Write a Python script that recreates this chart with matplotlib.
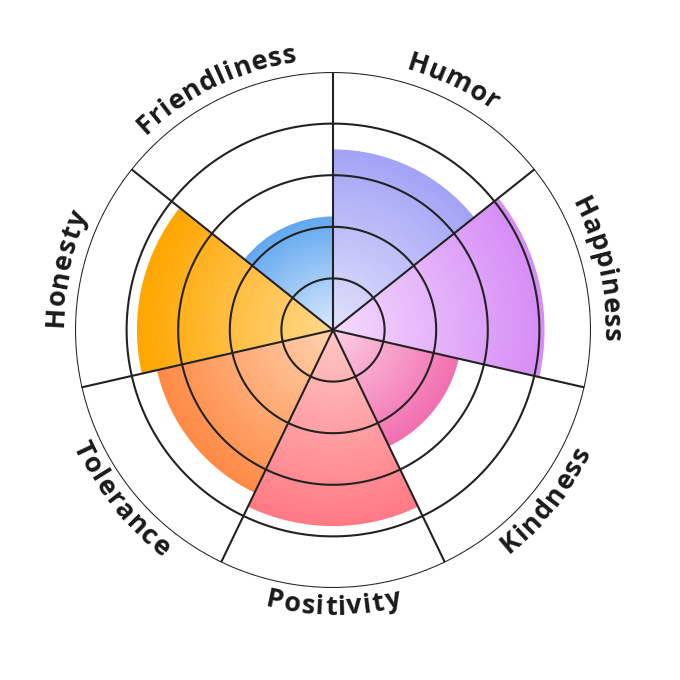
import numpy as np
import matplotlib
matplotlib.use('Agg')
import matplotlib.pyplot as plt
from matplotlib.colors import to_rgb
from matplotlib.font_manager import FontProperties

# sectors go clockwise starting at 12 o'clock
labels = ['Humor', 'Happiness', 'Kindness', 'Positivity', 'Tolerance', 'Honesty', 'Friendliness']
values = [3.5, 4.1, 2.5, 3.8, 3.5, 3.8, 2.2]
outer_colors = ['#a3a3f6', '#d68cf6', '#f26fb0', '#ff7a84', '#ff8a45', '#ffa600', '#62a8f0']
inner_colors = ['#e2e2fc', '#f3dcfd', '#fcd0e4', '#ffc9c6', '#ffd3b0', '#ffd98c', '#dbeafc']
rings = [1, 2, 3, 4, 5]


def mix(c1, c2, t):
    a = np.array(to_rgb(c1))
    b = np.array(to_rgb(c2))
    return tuple(a + (b - a) * t)


fig = plt.figure(figsize=(6.8, 6.8), dpi=100)
R = 258  # outer ring radius in px
cx, cy = 333, 680 - 330
ax = fig.add_axes([(cx - R) / 680, (cy - R) / 680, 2 * R / 680, 2 * R / 680], projection='polar')
ax.set_theta_zero_location('N')
ax.set_theta_direction(-1)
ax.set_ylim(0, rings[-1])
ax.set_xticks([])
ax.set_yticks([])
ax.grid(False)
ax.spines['polar'].set_visible(False)
ax.patch.set_alpha(0)

n = len(labels)
width = 2 * np.pi / n
centers = np.arange(n) * width + width / 2

# radial gradient: stack shrinking bars, outermost first
steps = 80
for k in range(steps, 0, -1):
    t = k / steps
    cols = [mix(inner_colors[i], outer_colors[i], t) for i in range(n)]
    ax.bar(centers, np.array(values) * t, width=width, color=cols, linewidth=0, antialiased=True)

# grid rings and spokes
tt = np.linspace(0, 2 * np.pi, 400)
for r in rings:
    ax.plot(tt, np.full_like(tt, r), color='#222222', lw=1.5, zorder=5)
for i in range(n):
    ax.plot([i * width, i * width], [0, rings[-1]], color='#222222', lw=1.5, zorder=5,
            solid_capstyle='butt')

# curved labels
fig.canvas.draw()
renderer = fig.canvas.get_renderer()
prop = FontProperties(family='Open Sans', weight='bold', size=19.5)
spacing = 1.0  # extra px between letters
r_text = 5.38
r_px = R * r_text / rings[-1]
for lab, c in zip(labels, centers):
    ws = [renderer.get_text_width_height_descent(ch, prop, ismath=False)[0] + spacing for ch in lab]
    total = sum(ws) / r_px
    lower = np.pi / 2 < c < 3 * np.pi / 2
    cum = 0
    for ch, w in zip(lab, ws):
        off = (cum + w / 2) / r_px
        cum += w
        if lower:
            th = c + total / 2 - off
            rot = 180 - np.degrees(th)
        else:
            th = c - total / 2 + off
            rot = -np.degrees(th)
        ax.text(th, r_text, ch, fontproperties=prop, color='#1a1a1a', rotation=rot,
                rotation_mode='anchor', ha='center', va='center', clip_on=False)

fig.savefig('out.png', dpi=100, facecolor='white')
